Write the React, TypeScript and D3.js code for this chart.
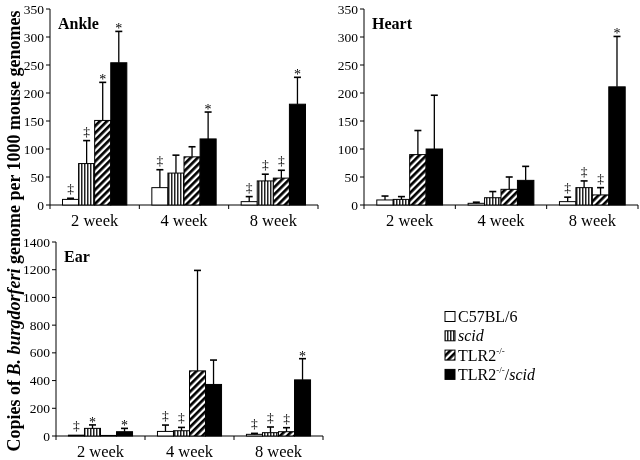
import React from 'react';
import * as d3 from 'd3';

const categories = ['2 week', '4 week', '8 week'];
const strains = ['C57BL/6', 'scid', 'TLR2-/-', 'TLR2-/-/scid'];

const ankleMeans = [[10, 74, 151, 254], [31, 57, 86, 118], [6, 43, 48, 180]];
const ankleSD = [[2, 41, 68, 56], [32, 32, 18, 48], [9, 12, 14, 48]];
const ankleMarks = [['‡', '‡', '*', '*'], ['‡', '', '', '*'], ['‡', '‡', '‡', '*']];

const heartMeans = [[9, 10, 90, 100], [3, 13, 28, 44], [6, 31, 18, 211]];
const heartSD = [[7, 5, 43, 96], [2, 11, 22, 25], [8, 12, 13, 90]];
const heartMarks = [['', '', '', ''], ['', '', '', ''], ['‡', '‡', '‡', '*']];

const earMeans = [[6, 55, 4, 31], [33, 38, 470, 372], [12, 24, 31, 405]];
const earSD = [[0, 25, 0, 24], [46, 24, 725, 176], [7, 41, 29, 153]];
const earMarks = [['‡', '*', '', '*'], ['‡', '‡', '', ''], ['‡', '‡', '‡', '*']];

const smallTicks = [0, 50, 100, 150, 200, 250, 300, 350];
const earTicks = [0, 200, 400, 600, 800, 1000, 1200, 1400];

const FONT = "'Liberation Serif', 'Times New Roman', 'DejaVu Serif', serif";
const fills = ['white', 'url(#vstripe)', 'url(#diag)', 'black'];

type PanelProps = {
  title: string;
  means: number[][];
  sds: number[][];
  marks: string[][];
  ticks: number[];
  left: number;
  right: number;
  top: number;
  bottom: number;
};

function Panel({ title, means, sds, marks, ticks, left, right, top, bottom }: PanelProps) {
  const yMax = ticks[ticks.length - 1];
  const y = d3.scaleLinear().domain([0, yMax]).range([bottom, top]);
  const x0 = d3.scaleBand<string>().domain(categories).range([left, right]);
  const bw = x0.bandwidth();
  const groupW = bw * 0.72;
  const x1 = d3.scaleBand<string>().domain(strains).range([0, groupW]);
  const barW = x1.bandwidth();
  const boundaries = [left, ...categories.map((c) => (x0(c) as number) + bw)];
  return (
    <g>
      <line x1={left} x2={left} y1={top} y2={bottom} stroke="black" strokeWidth={1} />
      {ticks.map((t) => (
        <g key={t}>
          <line x1={left - 4} x2={left} y1={y(t)} y2={y(t)} stroke="black" strokeWidth={1} />
          <text x={left - 6} y={y(t) + 4.5} textAnchor="end" fontSize={13.5} style={{ fontFamily: FONT }}>
            {t}
          </text>
        </g>
      ))}
      <line x1={left} x2={right} y1={bottom} y2={bottom} stroke="black" strokeWidth={1} />
      {boundaries.map((b, i) => (
        <line key={i} x1={b} x2={b} y1={bottom} y2={bottom + 4} stroke="black" strokeWidth={1} />
      ))}
      {categories.map((c) => (
        <text
          key={c}
          x={(x0(c) as number) + bw / 2}
          y={bottom + 21}
          textAnchor="middle"
          fontSize={16.5}
          style={{ fontFamily: FONT }}
        >
          {c}
        </text>
      ))}
      {categories.map((c, ci) => {
        const gx = (x0(c) as number) + (bw - groupW) / 2;
        return (
          <g key={c}>
            {strains.map((s, si) => {
              const m = means[ci][si];
              const sd = sds[ci][si];
              const bx = gx + (x1(s) as number);
              const cx = bx + barW / 2;
              const yTop = y(m);
              const yErr = y(m + sd);
              const mark = marks[ci][si];
              return (
                <g key={s}>
                  <rect
                    x={bx}
                    y={yTop}
                    width={barW}
                    height={bottom - yTop}
                    fill={fills[si]}
                    stroke="black"
                    strokeWidth={1}
                  />
                  {sd > 0 && (
                    <g>
                      <line x1={cx} x2={cx} y1={yTop} y2={yErr} stroke="black" strokeWidth={1.3} />
                      <line x1={cx - 3.5} x2={cx + 3.5} y1={yErr} y2={yErr} stroke="black" strokeWidth={1.6} />
                    </g>
                  )}
                  {mark && (
                    <text
                      x={cx}
                      y={mark === '*' ? yErr + 2 : yErr - 5}
                      textAnchor="middle"
                      fontSize={mark === '*' ? 14 : 13.5}
                      fill="black"
                      style={{ fontFamily: FONT }}
                    >
                      {mark}
                    </text>
                  )}
                </g>
              );
            })}
          </g>
        );
      })}
      <text x={left + 8} y={top + 20} fontSize={16} fontWeight="bold" style={{ fontFamily: FONT }}>
        {title}
      </text>
    </g>
  );
}

function Legend({ x, yStart, step }: { x: number; yStart: number; step: number }) {
  const labels = [
    <tspan>C57BL/6</tspan>,
    <tspan fontStyle="italic">scid</tspan>,
    <>
      <tspan>TLR2</tspan>
      <tspan fontSize={9} dy={-7}>-/-</tspan>
    </>,
    <>
      <tspan>TLR2</tspan>
      <tspan fontSize={9} dy={-7}>-/-</tspan>
      <tspan dy={7}>/</tspan>
      <tspan fontStyle="italic">scid</tspan>
    </>,
  ];
  return (
    <g>
      {strains.map((s, i) => {
        const yy = yStart + i * step;
        return (
          <g key={s}>
            <rect x={x} y={yy} width={10} height={10} fill={fills[i]} stroke="black" strokeWidth={1} />
            <text x={x + 13} y={yy + 10.5} fontSize={16} style={{ fontFamily: FONT }}>
              {labels[i]}
            </text>
          </g>
        );
      })}
    </g>
  );
}

export default function App() {
  return (
    <svg
      width={640}
      height={460}
      style={{
        position: 'absolute',
        left: 0,
        top: 0,
        background: 'white',
        fontFamily: FONT,
        willChange: 'transform',
      }}
      xmlns="http://www.w3.org/2000/svg"
    >
      <defs>
        <pattern id="vstripe" patternUnits="userSpaceOnUse" width={3} height={10}>
          <rect x={0} y={0} width={3} height={10} fill="white" />
          <rect x={0} y={0} width={1.5} height={10} fill="#222" />
        </pattern>
        <pattern
          id="diag"
          patternUnits="userSpaceOnUse"
          width={5}
          height={5}
          patternTransform="rotate(45)"
        >
          <rect x={0} y={0} width={5} height={5} fill="white" />
          <rect x={0} y={0} width={2.7} height={5} fill="black" />
        </pattern>
      </defs>
      <rect x={0} y={0} width={640} height={460} fill="white" />
      <Panel
        title="Ankle"
        means={ankleMeans}
        sds={ankleSD}
        marks={ankleMarks}
        ticks={smallTicks}
        left={50}
        right={318}
        top={9}
        bottom={205}
      />
      <Panel
        title="Heart"
        means={heartMeans}
        sds={heartSD}
        marks={heartMarks}
        ticks={smallTicks}
        left={364}
        right={638}
        top={9}
        bottom={205}
      />
      <Panel
        title="Ear"
        means={earMeans}
        sds={earSD}
        marks={earMarks}
        ticks={earTicks}
        left={56}
        right={323}
        top={242}
        bottom={436}
      />
      <Legend x={445} yStart={311.5} step={19.3} />
      <text
        transform="translate(20,231) rotate(-90)"
        textAnchor="middle"
        fontSize={18}
        fontWeight="bold"
        style={{ fontFamily: FONT }}
      >
        <tspan>Copies of </tspan>
        <tspan fontStyle="italic">B. burgdorferi</tspan>
        <tspan> genome per 1000 mouse genomes</tspan>
      </text>
    </svg>
  );
}
